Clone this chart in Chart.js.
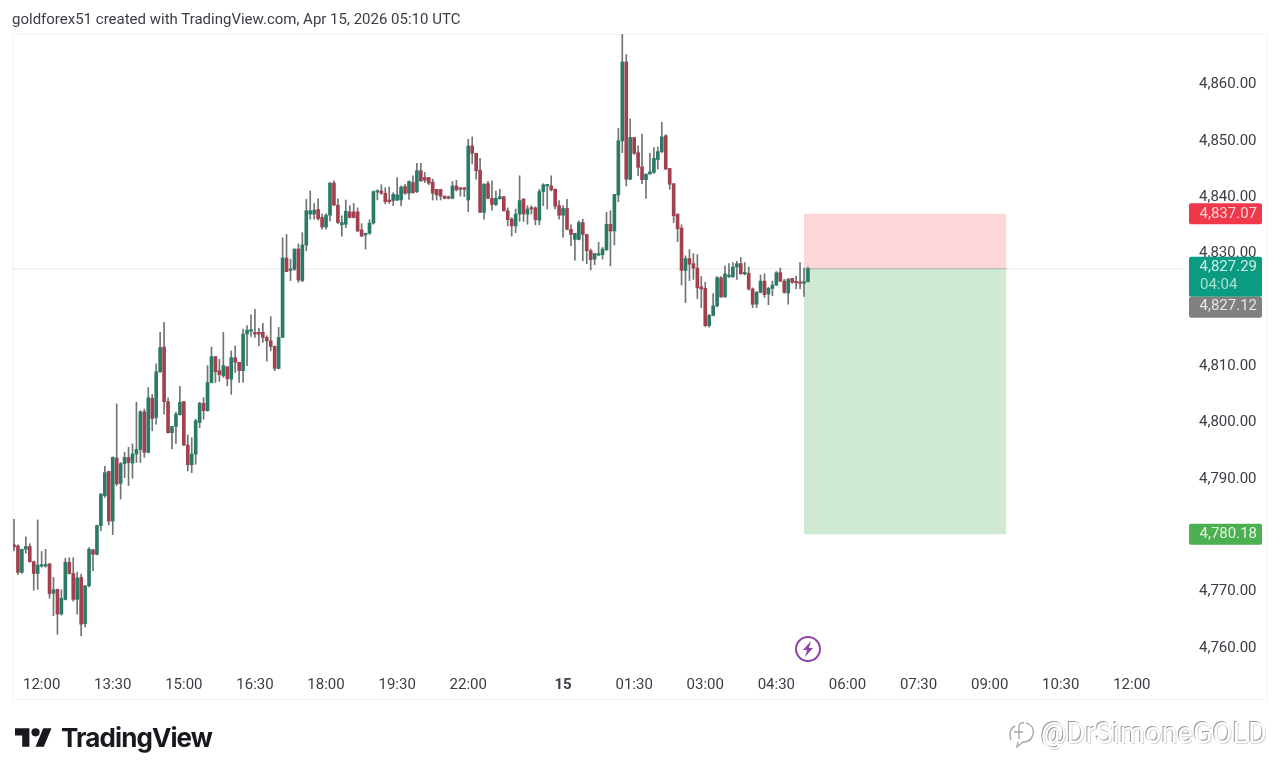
<!DOCTYPE html>
<html>
<head>
<meta charset="utf-8">
<title>XAUUSD 5m</title>
<script src="https://cdn.jsdelivr.net/npm/chart.js@4/dist/chart.umd.min.js"></script>
<style>
    html, body { margin: 0; padding: 0; background: #fff; }
    body { width: 1280px; height: 775px; overflow: hidden; position: relative; font-family: Roboto, sans-serif; }
    #chart { position: absolute; left: 0; top: 0; }
    #header { position: absolute; left: 12px; top: 11px; font-size: 15px; line-height: 16px; color: #3a3d45; }
    #logo { position: absolute; left: 15px; top: 728px; }
    #logoText { position: absolute; left: 61px; top: 722px; font-family: Inter, sans-serif; font-weight: 700; font-size: 26px; line-height: 32px; letter-spacing: -0.9px; color: #17191f; }
    #bolt { position: absolute; left: 794px; top: 635px; }
    #markIcon { position: absolute; left: 1008px; top: 720px; }
    #mark { position: absolute; right: 13px; top: 716px; font-size: 28.6px; line-height: 34px; color: #fff; text-shadow: -1px -1px 0 #9a9a9a, 1px 1px 0 #d8d8d8; letter-spacing: 0.2px; white-space: nowrap; }
</style>
</head>
<body>
<canvas id="chart" width="1280" height="775"></canvas>
<div id="header">goldforex51 created with TradingView.com, Apr 15, 2026 05:10 UTC</div>
<svg id="logo" width="37" height="19" viewBox="0 4 36 18"><path fill="#17191f" d="M14 22H7V11H0V4h14v18zM28 22h-8l7.5-18h8L28 22z"/><circle fill="#17191f" cx="20" cy="8" r="4"/></svg>
<div id="logoText">TradingView</div>
<svg id="bolt" width="28" height="28" viewBox="0 0 28 28"><circle cx="14" cy="14" r="12" fill="#fff" stroke="#8e44a8" stroke-width="2"/><path fill="#8e44a8" d="M17 6l-8 9h4l-2 7 8-9h-4z"/></svg>
<svg id="markIcon" width="28" height="30" viewBox="0 0 28 30"><path fill="none" stroke="#a8a8a8" stroke-width="1.4" d="M18 3c5 1 8 5 7 11-1 5-5 8-10 8l-6 5 1-5M3 20C1 13 3 8 7 6M16 3c-3-1-5 1-5 4v12M6 12h9"/></svg>
<div id="mark">@DrSimoneGOLD</div>

<script>
const opens = [
    4778.3, 4778.1, 4773.4, 4777.5, 4778.0, 4775.3, 4773.2, 4774.5, 4774.5, 4774.9,
    4769.7, 4770.4, 4766.0, 4768.6, 4775.2, 4773.2, 4768.6, 4772.5, 4764.3, 4771.0,
    4777.4, 4776.6, 4781.7, 4787.0, 4791.3, 4782.5, 4793.7, 4789.2, 4792.7, 4793.8,
    4792.8, 4794.4, 4795.2, 4801.9, 4794.7, 4804.3, 4800.9, 4809.0, 4813.4, 4803.7,
    4798.2, 4799.3, 4801.4, 4803.7, 4796.0, 4792.5, 4794.4, 4800.0, 4803.4, 4802.1,
    4807.1, 4811.7, 4809.2, 4808.3, 4809.9, 4807.7, 4811.5, 4810.7, 4809.2, 4815.7,
    4816.2, 4816.0, 4816.0, 4816.0, 4815.1, 4814.5, 4813.5, 4809.6, 4815.1, 4829.2,
    4827.0, 4827.2, 4830.8, 4825.2, 4831.5, 4837.0, 4837.0, 4837.8, 4836.4, 4834.7,
    4836.8, 4842.5, 4838.6, 4835.1, 4835.2, 4837.4, 4837.4, 4837.4, 4834.2, 4833.3,
    4833.6, 4835.4, 4840.9, 4841.1, 4840.7, 4839.5, 4839.4, 4839.5, 4839.5, 4841.9,
    4840.7, 4842.6, 4841.0, 4844.7, 4843.5, 4843.5, 4842.7, 4841.4, 4841.4, 4840.2,
    4839.9, 4839.8, 4842.0, 4841.6, 4841.6, 4839.5, 4849.1, 4847.8, 4844.8, 4837.3,
    4842.4, 4839.8, 4838.7, 4839.7, 4840.1, 4837.6, 4836.1, 4834.9, 4837.0, 4839.7,
    4837.0, 4838.1, 4838.1, 4835.9, 4841.0, 4842.0, 4842.0, 4841.4, 4838.5, 4836.8,
    4838.0, 4834.3, 4832.5, 4832.5, 4835.5, 4833.4, 4830.5, 4829.0, 4829.7, 4829.8,
    4830.7, 4835.2, 4834.0, 4840.4, 4850.0, 4864.0, 4843.2, 4850.6, 4847.9, 4845.4,
    4843.1, 4844.1, 4844.4, 4846.7, 4848.1, 4850.9, 4845.1, 4842.4, 4837.0, 4834.5,
    4827.0, 4829.1, 4828.2, 4827.4, 4824.1, 4823.8, 4817.2, 4819.0, 4820.7, 4825.7,
    4822.3, 4825.9, 4825.9, 4827.6, 4828.2, 4826.4, 4826.5, 4823.7, 4821.0, 4823.1,
    4825.1, 4822.8, 4823.8, 4824.4, 4826.6, 4825.1, 4823.0, 4825.6, 4825.0, 4824.9,
    4824.7, 4825.0
];
const highs = [
    4782.8, 4778.3, 4777.5, 4779.7, 4778.5, 4775.4, 4782.7, 4777.1, 4777.5, 4775.0,
    4772.5, 4770.4, 4770.3, 4775.9, 4776.0, 4776.0, 4773.4, 4773.1, 4771.1, 4777.8,
    4777.5, 4781.8, 4787.4, 4792.2, 4791.4, 4793.9, 4803.3, 4792.9, 4794.7, 4795.6,
    4796.2, 4803.6, 4802.1, 4802.4, 4806.2, 4805.0, 4810.4, 4816.0, 4817.8, 4804.4,
    4799.3, 4801.8, 4806.4, 4803.7, 4797.8, 4797.3, 4800.6, 4803.6, 4804.4, 4810.1,
    4813.4, 4811.7, 4811.2, 4816.0, 4809.9, 4812.7, 4813.6, 4810.7, 4816.6, 4817.2,
    4819.1, 4820.1, 4816.7, 4817.6, 4815.4, 4818.8, 4813.6, 4816.9, 4832.8, 4833.4,
    4829.0, 4830.8, 4831.7, 4833.7, 4839.6, 4841.1, 4838.9, 4839.7, 4837.0, 4837.1,
    4842.6, 4842.9, 4839.7, 4836.7, 4839.5, 4838.5, 4838.9, 4838.1, 4835.3, 4833.6,
    4836.0, 4841.1, 4841.3, 4842.2, 4841.7, 4841.8, 4840.8, 4843.5, 4842.0, 4842.3,
    4842.9, 4843.8, 4846.0, 4846.0, 4844.4, 4843.5, 4843.2, 4841.4, 4841.4, 4840.2,
    4840.2, 4842.8, 4843.0, 4841.7, 4841.7, 4850.3, 4850.7, 4847.8, 4846.9, 4842.4,
    4842.8, 4842.9, 4841.1, 4841.4, 4840.1, 4838.1, 4836.4, 4837.9, 4843.8, 4839.7,
    4838.5, 4838.5, 4838.3, 4841.4, 4842.4, 4842.2, 4843.8, 4841.5, 4839.4, 4838.5,
    4839.6, 4835.1, 4833.6, 4835.8, 4836.1, 4833.4, 4830.8, 4830.0, 4832.0, 4831.1,
    4837.3, 4837.6, 4840.5, 4852.2, 4868.9, 4865.3, 4853.9, 4850.6, 4849.1, 4851.2,
    4844.1, 4847.8, 4848.8, 4848.9, 4853.3, 4851.1, 4845.1, 4842.4, 4837.0, 4835.1,
    4829.6, 4830.7, 4830.0, 4829.8, 4825.9, 4824.9, 4819.2, 4822.9, 4825.9, 4825.9,
    4827.8, 4828.2, 4828.4, 4828.6, 4829.3, 4828.4, 4827.6, 4823.9, 4823.3, 4826.2,
    4826.4, 4824.0, 4825.1, 4826.8, 4827.4, 4825.4, 4825.6, 4825.6, 4826.0, 4828.4,
    4827.4, 4827.6
];
const lows = [
    4777.2, 4773.0, 4773.2, 4776.8, 4775.2, 4770.2, 4770.4, 4774.3, 4774.3, 4768.8,
    4765.7, 4762.4, 4765.8, 4768.5, 4773.1, 4768.3, 4766.0, 4762.1, 4763.7, 4770.8,
    4773.7, 4776.5, 4780.8, 4786.7, 4781.8, 4780.1, 4788.8, 4786.4, 4790.2, 4788.8,
    4790.1, 4792.9, 4792.9, 4793.8, 4794.6, 4798.5, 4799.7, 4808.9, 4801.5, 4798.1,
    4795.3, 4796.3, 4801.3, 4795.9, 4791.4, 4791.1, 4792.6, 4799.1, 4800.6, 4802.0,
    4807.0, 4807.1, 4807.3, 4808.0, 4806.5, 4805.0, 4808.9, 4807.1, 4807.1, 4810.1,
    4815.3, 4815.1, 4813.6, 4814.2, 4810.9, 4812.7, 4809.2, 4809.5, 4815.1, 4826.8,
    4825.2, 4827.0, 4824.9, 4825.0, 4830.5, 4836.1, 4836.1, 4835.9, 4834.3, 4834.3,
    4835.8, 4838.5, 4835.3, 4833.1, 4834.6, 4836.3, 4836.3, 4833.9, 4833.0, 4830.8,
    4833.4, 4835.2, 4839.5, 4840.5, 4838.8, 4838.9, 4838.5, 4839.4, 4838.5, 4840.5,
    4839.6, 4840.7, 4840.8, 4842.8, 4842.6, 4842.2, 4839.5, 4839.5, 4839.5, 4839.7,
    4839.7, 4839.7, 4841.1, 4840.2, 4840.1, 4837.4, 4845.9, 4843.2, 4837.3, 4836.1,
    4839.7, 4837.7, 4838.5, 4839.7, 4837.5, 4834.9, 4833.1, 4833.7, 4835.7, 4835.7,
    4835.2, 4837.0, 4835.1, 4835.1, 4838.5, 4837.9, 4841.1, 4837.9, 4836.1, 4832.9,
    4834.2, 4831.4, 4828.8, 4832.4, 4828.7, 4828.2, 4827.1, 4828.0, 4829.7, 4829.0,
    4830.5, 4827.8, 4831.5, 4839.2, 4847.9, 4842.0, 4843.1, 4847.6, 4843.8, 4842.4,
    4839.8, 4844.1, 4844.2, 4845.0, 4847.9, 4844.9, 4841.4, 4835.5, 4832.1, 4824.4,
    4821.3, 4825.2, 4825.4, 4822.0, 4820.4, 4817.0, 4816.9, 4818.9, 4820.5, 4822.2,
    4822.2, 4825.7, 4825.7, 4825.4, 4826.3, 4826.2, 4823.5, 4820.4, 4820.4, 4823.0,
    4822.2, 4820.9, 4822.5, 4824.3, 4825.0, 4822.9, 4821.0, 4824.7, 4823.7, 4823.7,
    4822.4, 4824.9
];
const closes = [
    4777.9, 4773.4, 4777.5, 4778.0, 4775.3, 4773.2, 4774.7, 4774.7, 4774.8, 4769.6,
    4770.3, 4766.0, 4768.8, 4775.2, 4773.2, 4768.6, 4772.4, 4764.2, 4771.0, 4777.5,
    4776.6, 4781.7, 4787.3, 4791.1, 4782.5, 4793.8, 4789.1, 4792.7, 4793.8, 4792.9,
    4794.4, 4795.2, 4801.9, 4794.7, 4804.4, 4800.7, 4809.0, 4813.3, 4803.7, 4798.2,
    4799.3, 4801.5, 4803.6, 4796.0, 4792.5, 4794.4, 4800.3, 4803.4, 4802.1, 4807.1,
    4811.7, 4809.0, 4808.5, 4810.1, 4807.8, 4811.5, 4810.7, 4809.2, 4815.7, 4816.4,
    4816.5, 4815.7, 4815.7, 4815.1, 4814.5, 4813.5, 4809.6, 4815.1, 4829.2, 4826.8,
    4827.2, 4830.8, 4825.3, 4831.5, 4837.6, 4837.6, 4837.7, 4836.2, 4834.7, 4836.8,
    4842.5, 4838.6, 4835.5, 4835.5, 4837.5, 4836.4, 4836.4, 4834.0, 4833.1, 4833.6,
    4835.4, 4841.0, 4841.1, 4840.7, 4839.2, 4839.2, 4840.5, 4840.4, 4841.8, 4840.7,
    4842.8, 4840.8, 4844.7, 4842.9, 4843.0, 4842.5, 4840.7, 4840.4, 4840.2, 4839.8,
    4839.8, 4842.0, 4841.3, 4841.4, 4841.4, 4849.1, 4847.8, 4844.7, 4837.3, 4842.3,
    4839.8, 4838.7, 4839.8, 4840.1, 4837.6, 4836.0, 4834.9, 4837.0, 4839.4, 4837.0,
    4837.9, 4837.9, 4836.0, 4841.0, 4842.2, 4842.1, 4841.3, 4838.4, 4836.8, 4838.0,
    4834.3, 4833.4, 4833.6, 4835.5, 4833.4, 4830.5, 4828.9, 4830.0, 4829.9, 4830.8,
    4835.2, 4834.0, 4840.5, 4850.0, 4864.0, 4843.2, 4850.6, 4847.8, 4845.3, 4843.1,
    4844.1, 4844.5, 4846.9, 4848.1, 4850.7, 4845.0, 4842.3, 4836.7, 4834.4, 4827.0,
    4829.1, 4828.1, 4827.4, 4823.9, 4823.7, 4817.2, 4819.0, 4820.7, 4825.7, 4822.3,
    4826.4, 4826.0, 4827.6, 4828.2, 4826.4, 4826.6, 4823.7, 4821.0, 4823.1, 4825.1,
    4822.7, 4823.8, 4824.4, 4826.6, 4825.1, 4823.1, 4825.4, 4824.9, 4824.8, 4824.7,
    4825.0, 4827.29
];

const timeTicks = [7, 25, 43, 61, 79, 97, 115, 139, 157, 175, 193, 211, 229, 247, 265, 283];
const timeLabels = ['12:00', '13:30', '15:00', '16:30', '18:00', '19:30', '22:00', '15', '01:30', '03:00', '04:30', '06:00', '07:30', '09:00', '10:30', '12:00'];
const priceTicks = [4760, 4770, 4780, 4790, 4800, 4810, 4820, 4830, 4840, 4850, 4860];

const lastPrice = 4827.29;
const countdown = '04:04';
const entryPrice = 4827.12;
const stopPrice = 4837.07;
const targetPrice = 4780.18;
const boxStart = 200;
const boxEnd = 251.25;

const upColor = '#2b7a68';
const downColor = '#a3404e';
const wickColor = '#6f7474';

const xMin = -0.25;
const xMax = 296.2;
const yMin = 4756.95;
const yMax = 4868.97;

function money(v) {
    return v.toLocaleString('en-US', { minimumFractionDigits: 2, maximumFractionDigits: 2 });
}

// price tags on the right axis, and the faint pane frame
const paneExtras = {
    id: 'paneExtras',
    beforeDraw(chart) {
        const ctx = chart.ctx;
        ctx.save();
        ctx.strokeStyle = '#f3f3f3';
        ctx.lineWidth = 1;
        ctx.strokeRect(12.5, 34.5, 1255, 665);
        ctx.restore();
    },
    afterDraw(chart) {
        const ctx = chart.ctx;
        const y = chart.scales.y;
        const tag = (top, h, color) => {
            ctx.fillStyle = color;
            ctx.beginPath();
            ctx.roundRect(1189, top, 73, h, 2);
            ctx.fill();
        };
        const label = (text, mid, color, left) => {
            ctx.fillStyle = color;
            ctx.textAlign = left ? 'left' : 'right';
            ctx.fillText(text, left ? 1200 : 1257, mid);
        };
        ctx.save();
        ctx.font = '15px Roboto';
        ctx.textBaseline = 'middle';

        const stopY = y.getPixelForValue(stopPrice);
        tag(stopY - 10.5, 21, '#f0384b');
        label(money(stopPrice), stopY + 0.5, '#fbd3d7');

        const targetY = y.getPixelForValue(targetPrice);
        tag(targetY - 10.5, 21, '#4caf50');
        label(money(targetPrice), targetY + 0.5, '#e3f3e4');

        const lastY = y.getPixelForValue(lastPrice);
        tag(lastY - 12, 40, '#0b9b80');
        label(money(lastPrice), lastY - 2, '#cfeee7');
        label(countdown, lastY + 16, '#a5e0d3', true);
        tag(lastY + 28, 21, '#808080');
        label(money(entryPrice), lastY + 37.5, '#e6e6e6');
        ctx.restore();
    }
};

const wickData = lows.map((low, i) => ({ x: i, y: [low, highs[i]] }));
const bodyData = opens.map((open, i) => ({ x: i, y: [open, closes[i]] }));
const bodyColors = opens.map((open, i) => closes[i] >= open ? upColor : downColor);

new Chart(document.getElementById('chart').getContext('2d'), {
    type: 'bar',
    data: {
        datasets: [
            {
                label: 'Wick',
                data: wickData,
                backgroundColor: wickColor,
                grouped: false,
                barPercentage: 1,
                categoryPercentage: 1,
                maxBarThickness: 1,
                order: 2
            },
            {
                label: 'Body',
                data: bodyData,
                backgroundColor: bodyColors,
                grouped: false,
                barPercentage: 1,
                categoryPercentage: 1,
                maxBarThickness: 3,
                minBarLength: 1.5,
                order: 1
            },
            {
                type: 'line',
                label: 'Stop',
                data: [{ x: boxStart, y: stopPrice }, { x: boxEnd, y: stopPrice }],
                borderWidth: 0,
                pointRadius: 0,
                fill: { value: lastPrice },
                backgroundColor: '#fcd6d9',
                order: 5
            },
            {
                type: 'line',
                label: 'Target',
                data: [{ x: boxStart, y: targetPrice }, { x: boxEnd, y: targetPrice }],
                borderWidth: 0,
                pointRadius: 0,
                fill: { value: lastPrice },
                backgroundColor: '#cfe9d3',
                order: 5
            },
            {
                type: 'line',
                label: 'Last price',
                data: [{ x: xMin, y: lastPrice }, { x: xMax, y: lastPrice }],
                borderColor: '#d3dbd8',
                borderWidth: 1,
                borderDash: [1, 1],
                pointRadius: 0,
                fill: false,
                order: 4
            },
            {
                type: 'line',
                label: 'Entry',
                data: [{ x: boxStart, y: lastPrice }, { x: boxEnd, y: lastPrice }],
                borderColor: '#a9b3ac',
                borderWidth: 1,
                pointRadius: 0,
                fill: false,
                order: 3
            }
        ]
    },
    options: {
        responsive: false,
        animation: false,
        layout: { padding: { left: 13, top: 34, right: 0, bottom: 0 } },
        plugins: { legend: { display: false }, title: { display: false }, tooltip: { enabled: false } },
        scales: {
            x: {
                type: 'linear',
                offset: false,
                min: xMin,
                max: xMax,
                grid: { display: false, drawTicks: false },
                border: { display: false },
                afterBuildTicks: axis => { axis.ticks = timeTicks.map(v => ({ value: v })); },
                afterFit: axis => { axis.height = 110; },
                ticks: {
                    autoSkip: false,
                    maxRotation: 0,
                    padding: 11,
                    color: '#3a3d45',
                    font: ctx => ctx.tick && ctx.tick.label === '15'
                        ? { family: 'Roboto', size: 15, weight: 'bold' }
                        : { family: 'Roboto', size: 15 },
                    callback: v => timeLabels[timeTicks.indexOf(v)]
                }
            },
            y: {
                position: 'right',
                min: yMin,
                max: yMax,
                grid: { display: false, drawTicks: false },
                border: { display: false },
                afterBuildTicks: axis => { axis.ticks = priceTicks.map(v => ({ value: v })); },
                afterFit: axis => { axis.width = 96; },
                ticks: {
                    padding: 15,
                    color: '#3a3d45',
                    font: { family: 'Roboto', size: 15 },
                    callback: v => money(v)
                }
            }
        }
    },
    plugins: [paneExtras]
});
</script>
</body>
</html>
